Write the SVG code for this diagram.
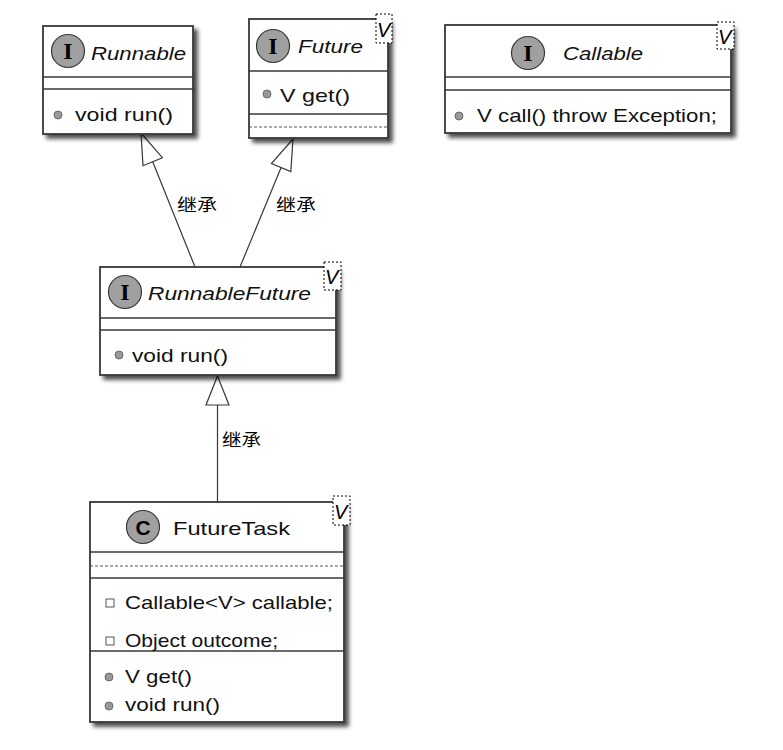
<svg xmlns="http://www.w3.org/2000/svg" width="783" height="750" viewBox="0 0 783 750">
<defs>
<filter id="sh" x="-10%" y="-10%" width="130%" height="130%">
<feGaussianBlur in="SourceAlpha" stdDeviation="2.2"/>
<feOffset dx="4" dy="4" result="o"/>
<feComponentTransfer><feFuncA type="linear" slope="0.7"/></feComponentTransfer>
<feMerge><feMergeNode/><feMergeNode in="SourceGraphic"/></feMerge>
</filter>
<style>
.box{fill:#ffffff;stroke:#383838;stroke-width:1.8;filter:url(#sh)}
.sep{stroke:#383838;stroke-width:1.5;fill:none}
.dash{stroke:#555;stroke-width:1;stroke-dasharray:3,2;fill:none}
.circ{fill:#a0a0a0;stroke:#383838;stroke-width:1.2}
.ltr{font-family:"Liberation Serif",serif;font-weight:bold;font-size:24px;fill:#000;text-anchor:middle}
.ltrc{font-family:"Liberation Sans",Arial,sans-serif;font-weight:bold;font-size:21px;fill:#000;text-anchor:middle}
.t{font-family:"Liberation Sans",Arial,sans-serif;font-size:19px;fill:#111}
.it{font-style:italic}
.dot{fill:#999;stroke:#6a6a6a;stroke-width:1}
.sq{fill:#fff;stroke:#555;stroke-width:1}
.stb{fill:#fff;stroke:#000;stroke-width:1;stroke-dasharray:2,2}
.stv{font-family:"Liberation Sans",Arial,sans-serif;font-style:italic;font-size:20px;fill:#000}
.edge{stroke:#383838;stroke-width:1.2;fill:none}
.head{fill:#fff;stroke:#383838;stroke-width:1.2}
.lbl{font-family:"Noto Sans CJK SC","Liberation Sans",sans-serif;font-size:17px;fill:#000}
</style>
</defs>

<g id="edges">
<line class="edge" x1="152.7" y1="161.7" x2="195" y2="267"/>
<polygon class="head" points="141,133 162.4,157.7 143,165.7"/>
<text class="lbl" x="177" y="211" textLength="40" lengthAdjust="spacingAndGlyphs">继承</text>
<line class="edge" x1="281.1" y1="167.6" x2="240" y2="267"/>
<polygon class="head" points="293,139 290.8,171.6 271.4,163.6"/>
<text class="lbl" x="276" y="211" textLength="40" lengthAdjust="spacingAndGlyphs">继承</text>
<line class="edge" x1="217.5" y1="405" x2="217.5" y2="502"/>
<polygon class="head" points="217.5,376 229,405 206,405"/>
<text class="lbl" x="222" y="446" textLength="39" lengthAdjust="spacingAndGlyphs">继承</text>
</g>

<g id="Runnable">
<rect class="box" x="43" y="26" width="150" height="108"/>
<line class="sep" x1="43" y1="77" x2="193" y2="77"/>
<line class="sep" x1="43" y1="89" x2="193" y2="89"/>
<circle class="circ" cx="68" cy="51" r="16.5"/>
<text class="ltr" x="68" y="59">I</text>
<text class="t it" x="91" y="60" textLength="95" lengthAdjust="spacingAndGlyphs">Runnable</text>
<circle class="dot" cx="58" cy="115" r="4"/>
<text class="t" x="75" y="121" textLength="98" lengthAdjust="spacingAndGlyphs">void run()</text>
</g>

<g id="Future">
<rect class="box" x="249" y="19" width="139" height="119"/>
<line class="sep" x1="249" y1="71" x2="388" y2="71"/>
<line class="sep" x1="249" y1="114" x2="388" y2="114"/>
<line class="dash" x1="249" y1="127" x2="388" y2="127"/>
<circle class="circ" cx="273" cy="46" r="16.5"/>
<text class="ltr" x="273" y="54">I</text>
<text class="t it" x="298" y="53" textLength="65" lengthAdjust="spacingAndGlyphs">Future</text>
<circle class="dot" cx="267" cy="94" r="4"/>
<text class="t" x="280" y="102" textLength="70" lengthAdjust="spacingAndGlyphs">V get()</text>
<rect class="stb" x="376" y="14" width="16" height="29"/>
<text class="stv" x="377" y="37">V</text>
</g>

<g id="Callable">
<rect class="box" x="445" y="25" width="286" height="108"/>
<line class="sep" x1="445" y1="77" x2="731" y2="77"/>
<line class="sep" x1="445" y1="90" x2="731" y2="90"/>
<circle class="circ" cx="528" cy="53" r="16.5"/>
<text class="ltr" x="528" y="61">I</text>
<text class="t it" x="563" y="60" textLength="80" lengthAdjust="spacingAndGlyphs">Callable</text>
<circle class="dot" cx="459" cy="116" r="4"/>
<text class="t" x="477" y="122" textLength="240" lengthAdjust="spacingAndGlyphs">V call() throw Exception;</text>
<rect class="stb" x="717" y="22" width="17" height="27"/>
<text class="stv" x="718" y="44">V</text>
</g>

<g id="RunnableFuture">
<rect class="box" x="100" y="267" width="236" height="108"/>
<line class="sep" x1="100" y1="318" x2="336" y2="318"/>
<line class="sep" x1="100" y1="330" x2="336" y2="330"/>
<circle class="circ" cx="125" cy="292" r="16.5"/>
<text class="ltr" x="125" y="300">I</text>
<text class="t it" x="148" y="300" textLength="163" lengthAdjust="spacingAndGlyphs">RunnableFuture</text>
<circle class="dot" cx="119" cy="355" r="4"/>
<text class="t" x="132" y="362" textLength="96" lengthAdjust="spacingAndGlyphs">void run()</text>
<rect class="stb" x="324" y="262" width="17" height="28"/>
<text class="stv" x="325" y="284">V</text>
</g>

<g id="FutureTask">
<rect class="box" x="90" y="502" width="254" height="220"/>
<line class="sep" x1="90" y1="552" x2="344" y2="552"/>
<line class="dash" x1="90" y1="566" x2="344" y2="566"/>
<line class="sep" x1="90" y1="578" x2="344" y2="578"/>
<line class="sep" x1="90" y1="651" x2="344" y2="651"/>
<circle class="circ" cx="143" cy="527" r="16.5"/>
<text class="ltrc" x="143" y="534.5">C</text>
<text class="t" x="173" y="535" textLength="117" lengthAdjust="spacingAndGlyphs">FutureTask</text>
<rect class="sq" x="106" y="599" width="8" height="8"/>
<text class="t" x="125" y="609" textLength="208" lengthAdjust="spacingAndGlyphs">Callable&lt;V&gt; callable;</text>
<rect class="sq" x="106" y="637" width="8" height="8"/>
<text class="t" x="125" y="647" textLength="153" lengthAdjust="spacingAndGlyphs">Object outcome;</text>
<circle class="dot" cx="109" cy="677" r="4"/>
<text class="t" x="125" y="683" textLength="67" lengthAdjust="spacingAndGlyphs">V get()</text>
<circle class="dot" cx="109" cy="706" r="4"/>
<text class="t" x="125" y="711" textLength="95" lengthAdjust="spacingAndGlyphs">void run()</text>
<rect class="stb" x="333" y="496" width="17" height="29"/>
<text class="stv" x="334" y="519">V</text>
</g>
</svg>
